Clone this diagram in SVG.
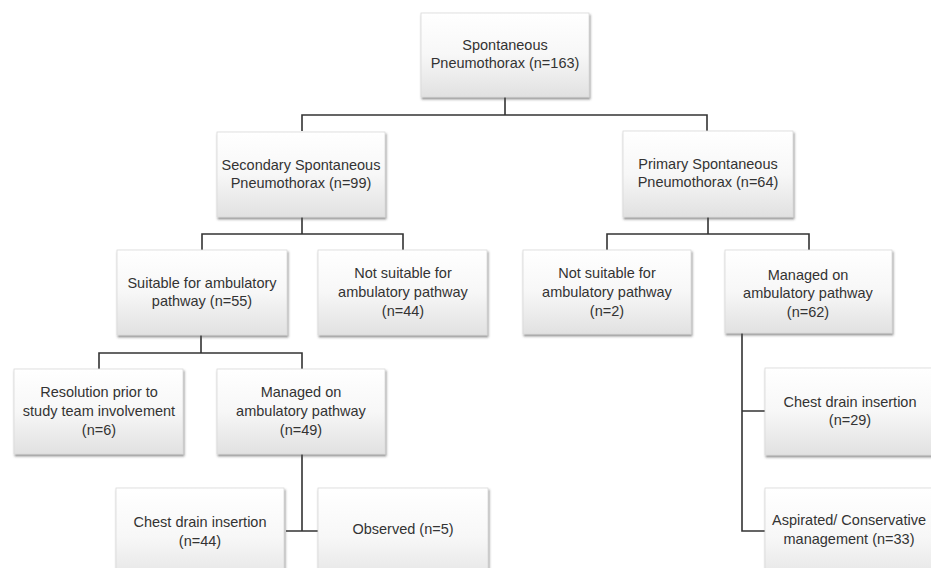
<svg xmlns="http://www.w3.org/2000/svg" width="931" height="568" viewBox="0 0 931 568">
<defs>
<linearGradient id="g" x1="0" y1="0" x2="0" y2="1">
<stop offset="0" stop-color="#ffffff"/>
<stop offset="0.5" stop-color="#f7f7f7"/>
<stop offset="1" stop-color="#e1e1e1"/>
</linearGradient>
<filter id="sh" x="-10%" y="-10%" width="125%" height="130%">
<feDropShadow dx="1" dy="2" stdDeviation="1.2" flood-color="#4a4a4a" flood-opacity="0.6"/>
</filter>
</defs>
<style>
.box{fill:url(#g);stroke:#dadada;stroke-width:0.8;filter:url(#sh)}
text{font-family:"Liberation Sans",Arial,sans-serif;font-size:14.5px;fill:#333;text-anchor:middle}
.c{fill:none;stroke:#333;stroke-width:1.6}
</style>
<rect width="931" height="568" fill="#fff"/>
<g id="connectors">
<path class="c" d="M505,97 V115 M302,131 V115 H707 V131"/>
<path class="c" d="M302,217 V234 M202,250 V234 H403 V250"/>
<path class="c" d="M708,217 V234 M607,250 V234 H809 V250"/>
<path class="c" d="M201,335 V353 M99,369 V353 H302 V369"/>
<path class="c" d="M302,454 V531 M286,531 H318"/>
<path class="c" d="M742,333 V531 H765 M742,411 H765"/>
</g>
<g id="n1"><rect class="box" x="421" y="13" width="168" height="84"/><text x="505" y="50">Spontaneous</text><text x="505" y="68">Pneumothorax  (n=163)</text></g>
<g id="n2"><rect class="box" x="217" y="132" width="168" height="85"/><text x="301" y="170">Secondary Spontaneous</text><text x="301" y="188">Pneumothorax (n=99)</text></g>
<g id="n3"><rect class="box" x="623" y="131" width="170" height="86"/><text x="708" y="169">Primary Spontaneous</text><text x="708" y="187">Pneumothorax (n=64)</text></g>
<g id="n4"><rect class="box" x="117" y="250" width="170" height="85"/><text x="202" y="288">Suitable for ambulatory</text><text x="202" y="306">pathway (n=55)</text></g>
<g id="n5"><rect class="box" x="318" y="250" width="169" height="85"/><text x="403" y="278">Not suitable for</text><text x="403" y="297">ambulatory pathway</text><text x="403" y="316">(n=44)</text></g>
<g id="n6"><rect class="box" x="523" y="250" width="168" height="84"/><text x="607" y="278">Not suitable for</text><text x="607" y="297">ambulatory pathway</text><text x="607" y="316">(n=2)</text></g>
<g id="n7"><rect class="box" x="725" y="250" width="167" height="83"/><text x="808" y="280">Managed on</text><text x="808" y="298">ambulatory pathway</text><text x="808" y="317">(n=62)</text></g>
<g id="n8"><rect class="box" x="14" y="369" width="169" height="85"/><text x="99" y="397">Resolution prior to</text><text x="99" y="416">study team involvement</text><text x="99" y="435">(n=6)</text></g>
<g id="n9"><rect class="box" x="217" y="369" width="168" height="85"/><text x="301" y="397">Managed on</text><text x="301" y="416">ambulatory pathway</text><text x="301" y="435">(n=49)</text></g>
<g id="n10"><rect class="box" x="116" y="488" width="168" height="100"/><text x="200" y="527">Chest drain insertion</text><text x="200" y="546">(n=44)</text></g>
<g id="n11"><rect class="box" x="318" y="488" width="170" height="100"/><text x="403" y="534">Observed (n=5)</text></g>
<g id="n12"><rect class="box" x="765" y="368" width="172" height="87"/><text x="850" y="407">Chest drain insertion</text><text x="850" y="425">(n=29)</text></g>
<g id="n13"><rect class="box" x="765" y="488" width="172" height="100"/><text x="849" y="525">Aspirated/ Conservative</text><text x="849" y="544">management (n=33)</text></g>
</svg>
